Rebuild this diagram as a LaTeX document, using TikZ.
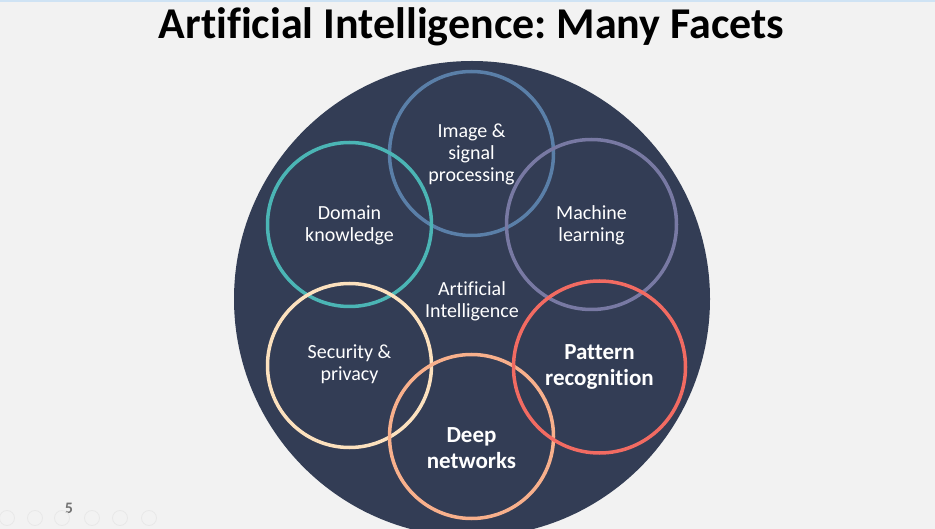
\documentclass[tikz,border=0pt]{standalone}
\usepackage{fontspec}
\setmainfont{Carlito}[Ligatures=NoCommon]
\usetikzlibrary{positioning}
\frenchspacing

\definecolor{slidebg}{HTML}{F2F2F2}
\definecolor{topstrip}{HTML}{CFE3F4}
\definecolor{aidark}{HTML}{333D55}
\definecolor{imgblue}{HTML}{5A7FA8}
\definecolor{domteal}{HTML}{4BB5B5}
\definecolor{mlpurple}{HTML}{7879A3}
\definecolor{secpeach}{HTML}{FCE1BE}
\definecolor{deeppeach}{HTML}{F8B08C}
\definecolor{patcoral}{HTML}{F26B62}
\definecolor{navgray}{HTML}{E8E8E8}

\tikzset{
  facet/.style={circle, draw=#1, line width=3.5pt, inner sep=0pt},
  facetlabel/.style={text=white, align=center, font=\fontsize{20}{22}\selectfont},
  boldlabel/.style={text=white, align=center, font=\fontsize{23}{26}\selectfont\bfseries},
}

\begin{document}
\begin{tikzpicture}[x=1pt, y=-1pt]
  % Slide background and frame
  \fill[slidebg] (0,0) rectangle (935,529);
  \useasboundingbox (0,0) rectangle (935,529);
  \fill[topstrip] (0,0) rectangle (935,2);

  % Title
  \node[anchor=base, font=\fontsize{44}{48}\selectfont\bfseries] (title) at (471.5,39) {Artificial Intelligence: Many Facets};

  % The big dark circle
  \fill[aidark] (472,299) circle (238);
  \node[facetlabel] (ai) at (472,301) {Artificial\\Intelligence};

  % The six facets, drawn in stacking order
  \foreach \name/\x/\y/\d/\col in {image/471.5/153.5/164/imgblue, ml/591.5/224.5/170/mlpurple,
      domain/349.5/224.5/164/domteal, security/349.5/365.5/164/secpeach,
      deep/471.5/436.5/164/deeppeach, pattern/599.5/367/172/patcoral} {
    \node[facet=\col, minimum size=\d pt] (\name) at (\x,\y) {};
  }

  % Facet labels
  \node[facetlabel] (imagetext) at ([yshift=-1pt]image.center) {Image \&\\signal\\processing};
  \node[facetlabel] (domaintext) at ([yshift=-1pt]domain.center) {Domain\\knowledge};
  \node[facetlabel] (mltext) at ([yshift=-1pt]ml.center) {Machine\\learning};
  \node[facetlabel] (securitytext) at ([yshift=1pt]security.center) {Security \&\\privacy};
  \node[boldlabel] (deeptext) at ([yshift=-12pt]deep.center) {Deep\\networks};
  \node[boldlabel] (patterntext) at (pattern) {Pattern\\recognition};

  % Slide number and faint navigation buttons
  \node[text=black!55, font=\fontsize{16}{18}\selectfont\bfseries] (pagenum) at (69,508) {5};
  \foreach \bx in {7,35,62,92,120,149} {
    \draw[navgray, line width=0.8pt] (\bx,518) circle (7.5);
  }
\end{tikzpicture}
\end{document}
